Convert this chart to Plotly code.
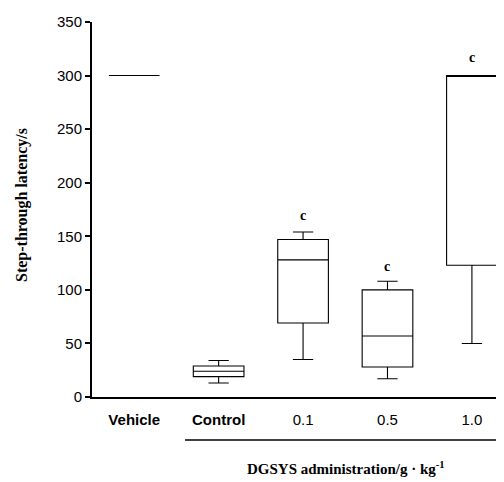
import plotly.graph_objects as go

categories = ["Vehicle", "Control", "0.1", "0.5", "1.0"]
lower = [300, 13, 35, 17, 50]
q1 = [300, 19, 69, 28, 123]
median = [300, 24, 128, 57, 300]
q3 = [300, 29, 147, 100, 300]
upper = [300, 34, 154, 108, 300]

sig_cats = ["0.1", "0.5", "1.0"]
sig_y = [169, 122, 317]
sig_text = ["c", "c", "c"]

yticks = [0, 50, 100, 150, 200, 250, 300, 350]

OFF = 8  # default page body margin
W, H = 504 - OFF, 482 - OFF
L, T = 92 - OFF, 22 - OFF
R = 0
ph = 375
B = H - T - ph
pw = W - L - R


def px_x(xp):
    return (xp - OFF - L) / pw


def px_y(yp):
    return (T + ph - (yp - OFF)) / ph


fig = go.Figure()
fig.add_trace(go.Box(
    x=categories, q1=q1, median=median, q3=q3,
    lowerfence=lower, upperfence=upper,
    width=0.6, whiskerwidth=0.4,
    fillcolor="white", line=dict(color="black", width=1.1),
    boxpoints=False, showlegend=False, hoverinfo="skip",
))

for c, yv, t in zip(sig_cats, sig_y, sig_text):
    fig.add_annotation(x=categories.index(c), y=yv, text="<b>" + t + "</b>", showarrow=False,
                       xanchor="center", yanchor="middle",
                       font=dict(family="Liberation Serif", size=14, color="black"))

fig.add_annotation(xref="paper", yref="paper", x=px_x(22), y=px_y(205),
                   xanchor="center", yanchor="middle",
                   text="<b>Step-through latency/s</b>", textangle=-90, showarrow=False,
                   font=dict(family="Liberation Serif", size=16, color="black"))
fig.add_annotation(xref="paper", yref="paper", x=px_x(346), y=px_y(468),
                   xanchor="center", yanchor="middle",
                   text="<b>DGSYS administration/g · kg<sup>-1</sup></b>", showarrow=False,
                   font=dict(family="Liberation Serif", size=15, color="black"))
fig.add_shape(type="line", xref="paper", yref="paper",
              x0=px_x(185), x1=1, y0=px_y(440), y1=px_y(440),
              line=dict(color="black", width=1.5))

fig.update_layout(
    width=W, height=H,
    margin=dict(l=L, r=R, t=T, b=B, autoexpand=False),
    paper_bgcolor="white", plot_bgcolor="white",
    font=dict(family="Liberation Sans", size=15, color="black"),
    xaxis=dict(
        type="category", categoryorder="array", categoryarray=categories,
        range=[-0.5, 4.38], showgrid=False, zeroline=False,
        showline=True, linecolor="black", linewidth=2, ticks="",
        tickvals=categories,
        ticktext=["<b>" + c + "</b>" if c in ("Vehicle", "Control") else c for c in categories],
        tickfont=dict(family="Liberation Sans", size=15, color="black"),
        ticklabelstandoff=8,
    ),
    yaxis=dict(
        range=[0, 350], tickvals=yticks, showgrid=False, zeroline=False,
        showline=True, linecolor="black", linewidth=2,
        ticks="outside", ticklen=5, tickwidth=1.5, tickcolor="black",
        tickfont=dict(family="Liberation Sans", size=15, color="black"),
    ),
)

fig.write_html("out.html")
